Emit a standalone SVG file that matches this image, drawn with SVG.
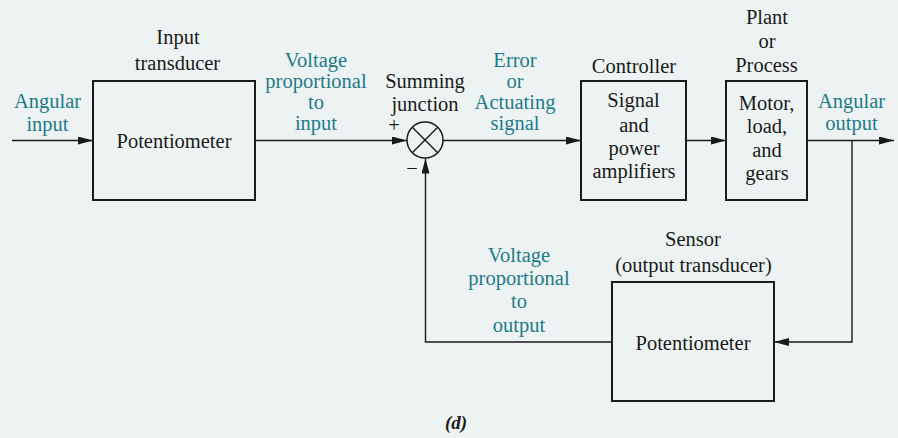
<svg xmlns="http://www.w3.org/2000/svg" width="898" height="438" viewBox="0 0 898 438">
<style>
text{font-family:"Liberation Serif","DejaVu Serif","Times New Roman",serif;font-size:20.5px;fill:#1a1a1a;text-anchor:middle}
text.t{fill:#1d7a89}
.box{fill:none;stroke:#1a1a1a;stroke-width:2}
.c{fill:none;stroke:#1a1a1a;stroke-width:1.4}
</style>
<defs>
<marker id="ah" viewBox="0 0 15 8" refX="15" refY="4" markerWidth="15" markerHeight="8" markerUnits="userSpaceOnUse" orient="auto">
<path d="M0,0 L15,4 L0,8 z" fill="#1a1a1a"/>
</marker>
</defs>
<rect width="898" height="438" fill="#edf3f3"/>

<g id="connectors">
<line class="c" x1="12" y1="140.5" x2="93" y2="140.5" marker-end="url(#ah)"/>
<line class="c" x1="255" y1="140.5" x2="407" y2="140.5" marker-end="url(#ah)"/>
<line class="c" x1="443" y1="140.5" x2="581" y2="140.5" marker-end="url(#ah)"/>
<line class="c" x1="686" y1="140.5" x2="726" y2="140.5" marker-end="url(#ah)"/>
<line class="c" x1="807" y1="140.5" x2="894" y2="140.5" marker-end="url(#ah)"/>
<polyline class="c" points="852,140.5 852,342 774,342" marker-end="url(#ah)"/>
<polyline class="c" points="612,342 425.5,342 425.5,158.5" marker-end="url(#ah)"/>
</g>

<g id="input-transducer">
<rect class="box" x="93" y="81" width="162" height="119"/>
<text x="178" y="44">Input</text>
<text x="177.5" y="70">transducer</text>
<text x="174" y="148">Potentiometer</text>
</g>

<g id="angular-input-label">
<text class="t" x="47.5" y="108">Angular</text>
<text class="t" x="47.5" y="131">input</text>
</g>

<g id="voltage-input-label">
<text class="t" x="316" y="66.5">Voltage</text>
<text class="t" x="316" y="87.8">proportional</text>
<text class="t" x="316" y="109">to</text>
<text class="t" x="316" y="130.3">input</text>
</g>

<g id="summing-junction">
<circle cx="425" cy="140" r="18" fill="none" stroke="#1a1a1a" stroke-width="1.5"/>
<line class="c" x1="412.3" y1="127.3" x2="437.7" y2="152.7"/>
<line class="c" x1="412.3" y1="152.7" x2="437.7" y2="127.3"/>
<text x="425" y="88">Summing</text>
<text x="425" y="111">junction</text>
<text x="394" y="131.5">+</text>
<text x="412" y="174.5">−</text>
</g>

<g id="error-label">
<text class="t" x="515" y="66.5">Error</text>
<text class="t" x="515" y="88">or</text>
<text class="t" x="515" y="109">Actuating</text>
<text class="t" x="515" y="130.3">signal</text>
</g>

<g id="controller">
<rect class="box" x="581" y="81" width="105" height="119"/>
<text x="634" y="72.7">Controller</text>
<text x="633.5" y="107.3">Signal</text>
<text x="634" y="131.5">and</text>
<text x="634" y="155">power</text>
<text x="634" y="178.3">amplifiers</text>
</g>

<g id="plant">
<rect class="box" x="726" y="81" width="81" height="119"/>
<text x="767" y="24">Plant</text>
<text x="767" y="48">or</text>
<text x="766.5" y="71.7">Process</text>
<text x="766.5" y="110">Motor,</text>
<text x="767" y="133">load,</text>
<text x="767" y="156.7">and</text>
<text x="767" y="180">gears</text>
</g>

<g id="angular-output-label">
<text class="t" x="851.5" y="108">Angular</text>
<text class="t" x="851.5" y="130">output</text>
</g>

<g id="sensor">
<rect class="box" x="612" y="282" width="162" height="119"/>
<text x="693" y="246">Sensor</text>
<text x="693.5" y="271.7">(output transducer)</text>
<text x="693" y="350">Potentiometer</text>
</g>

<g id="voltage-output-label">
<text class="t" x="519" y="261.7">Voltage</text>
<text class="t" x="519" y="285">proportional</text>
<text class="t" x="519" y="308">to</text>
<text class="t" x="519" y="331.7">output</text>
</g>

<text x="456" y="429" style="font-weight:bold;font-style:italic;font-size:19px">(d)</text>
</svg>
